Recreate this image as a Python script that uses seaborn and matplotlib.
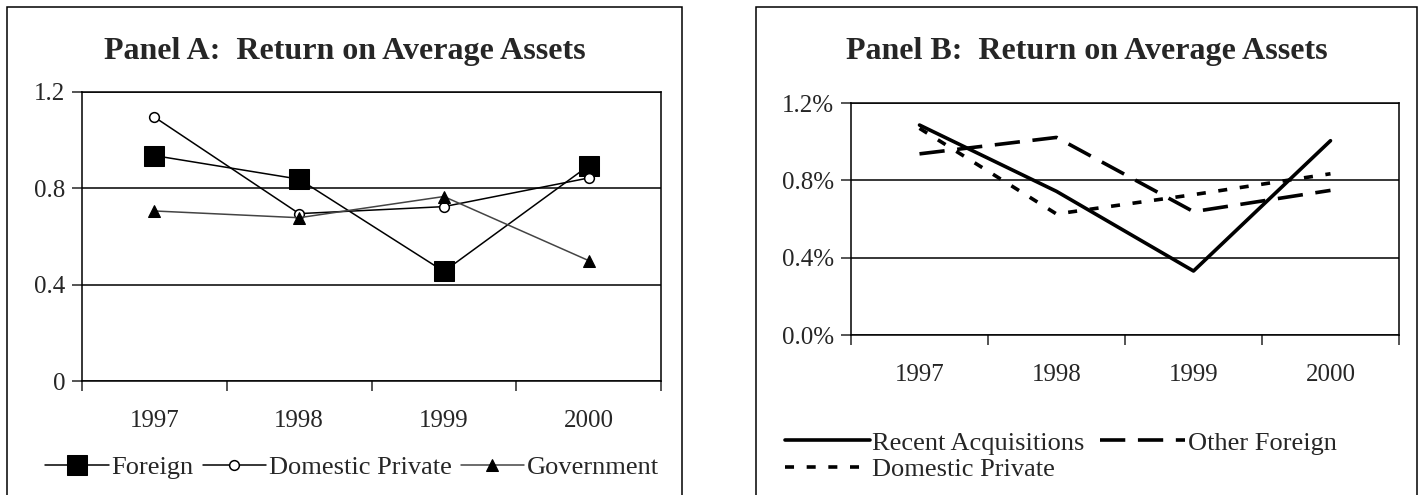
import numpy as np
import pandas as pd
import matplotlib
matplotlib.use("Agg")
import matplotlib.pyplot as plt
import seaborn as sns
from matplotlib.patches import Rectangle

years = ["1997", "1998", "1999", "2000"]

# Panel A: return on average assets (%)
foreign = [0.936, 0.838, 0.455, 0.894]
domestic_private_a = [1.096, 0.695, 0.724, 0.843]
government = [0.706, 0.678, 0.766, 0.500]

# Panel B: return on average assets (%)
recent_acq = [1.086, 0.743, 0.331, 1.005]
other_foreign = [0.937, 1.022, 0.638, 0.748]
domestic_private_b = [1.069, 0.626, 0.726, 0.834]

sns.set_style("white")
plt.rcParams["font.family"] = ["Liberation Serif", "DejaVu Serif"]
plt.rcParams["axes.linewidth"] = 1.1

W, H = 1421, 495
fig = plt.figure(figsize=(W / 100, H / 100), dpi=100)

pos = np.arange(len(years))
df_a = pd.DataFrame({"pos": pos, "Foreign": foreign,
                     "Domestic Private": domestic_private_a,
                     "Government": government})
df_b = pd.DataFrame({"pos": pos, "Recent Acquisitions": recent_acq,
                     "Other Foreign": other_foreign,
                     "Domestic Private": domestic_private_b})


def box(x0, x1, y0, y1):
    fig.patches.append(Rectangle((x0 / W, 1 - y1 / H), (x1 - x0) / W, (y1 - y0) / H,
                                 transform=fig.transFigure, fill=False,
                                 edgecolor="black", linewidth=1.1, clip_on=False))


def style_axes(ax, ymax, pad):
    ax.set_xlim(-0.5, len(years) - 0.5)
    ax.set_ylim(0, ymax)
    ax.set_xticks(np.arange(len(years) + 1) - 0.5)
    ax.set_xticklabels([])
    ax.set_xticks(pos, minor=True)
    ax.set_xticklabels(years, minor=True)
    ax.tick_params(axis="x", which="major", direction="out", length=7, width=1.1,
                   bottom=True)
    ax.tick_params(axis="x", which="minor", length=0, pad=pad, labelsize=18)
    ax.tick_params(axis="y", direction="out", length=7, width=1.1, left=True,
                   labelsize=18, pad=5)
    ax.yaxis.grid(True, color="black", linewidth=1.1)
    ax.xaxis.grid(False)
    for s in ax.spines.values():
        s.set_visible(True)
        s.set_color("black")
        s.set_linewidth(1.1)
    ax.set_xlabel("")
    ax.set_ylabel("")


# ---- Panel A
box(7, 682, 7, 520)
axA = fig.add_axes([82 / W, 1 - 381 / H, (661 - 82) / W, (381 - 92) / H])
sns.lineplot(data=df_a, x="pos", y="Foreign", ax=axA, color="black", lw=1.1,
             marker="s", markersize=14, markeredgecolor="black", label="Foreign")
sns.lineplot(data=df_a, x="pos", y="Domestic Private", ax=axA, color="black", lw=1.1,
             marker="o", markersize=7, markerfacecolor="white",
             markeredgecolor="black", markeredgewidth=1.1, label="Domestic Private")
sns.lineplot(data=df_a, x="pos", y="Government", ax=axA, color="#444444", lw=1.1,
             marker="^", markersize=9, markerfacecolor="black",
             markeredgecolor="black", label="Government")
style_axes(axA, 1.2, 21)
axA.set_yticks([0, 0.4, 0.8, 1.2])
axA.set_yticklabels(["0", "0.4", "0.8", "1.2"])
axA.legend(loc="center", bbox_to_anchor=(352 / W, 1 - 467 / H),
           bbox_transform=fig.transFigure, ncol=3, frameon=False, fontsize=19,
           handlelength=2.4, handletextpad=0.1, columnspacing=0.35)
fig.text(344.5 / W, 1 - 52 / H, "Panel A:  Return on Average Assets",
         ha="center", va="center", fontsize=23, fontweight="bold")

# ---- Panel B
box(756, 1417, 7, 520)
axB = fig.add_axes([851 / W, 1 - 335 / H, (1399 - 851) / W, (335 - 103) / H])
sns.lineplot(data=df_b, x="pos", y="Recent Acquisitions", ax=axB, color="black",
             lw=2.6, label="Recent Acquisitions")
sns.lineplot(data=df_b, x="pos", y="Other Foreign", ax=axB, color="black",
             lw=2.6, dashes=(7, 3.5), label="Other Foreign")
sns.lineplot(data=df_b, x="pos", y="Domestic Private", ax=axB, color="black",
             lw=2.6, dashes=(2.5, 3.5), label="Domestic Private")
style_axes(axB, 1.2, 21)
axB.set_yticks([0, 0.4, 0.8, 1.2])
axB.set_yticklabels(["0.0%", "0.4%", "0.8%", "1.2%"])
h, l = axB.get_legend_handles_labels()
order = [0, 2, 1]
axB.legend([h[i] for i in order], [l[i] for i in order],
           loc="upper left", bbox_to_anchor=(772 / W, 1 - 418 / H),
           bbox_transform=fig.transFigure, ncol=2, frameon=False, fontsize=19,
           handlelength=3.2, handletextpad=0.1, columnspacing=0.6,
           labelspacing=0.1, borderpad=0)
fig.text(1086.5 / W, 1 - 52 / H, "Panel B:  Return on Average Assets",
         ha="center", va="center", fontsize=23, fontweight="bold")

fig.savefig("out.png", dpi=100)
